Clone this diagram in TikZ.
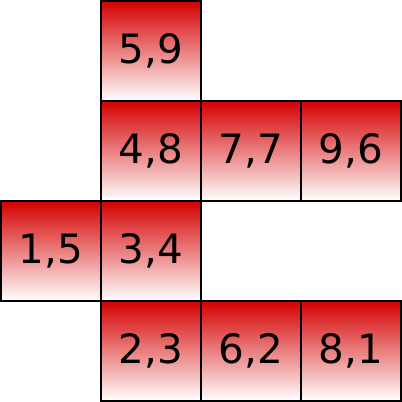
\documentclass[tikz,border=0pt]{standalone}
\usepackage{fontspec}
\setmainfont{DejaVu Sans}
\usetikzlibrary{positioning}
\definecolor{cellred}{RGB}{212,0,0}
\tikzset{
	cellbox/.style={draw=black,line width=0.4pt,minimum size=1cm,inner sep=0pt,
		top color=cellred,bottom color=white,font=\fontsize{11.5}{13}\selectfont}
}
\begin{document}
\begin{tikzpicture}
		\useasboundingbox (0,0) rectangle (4.02,4.02);
		% cells: column/row/label
		\foreach \c/\r/\lab in {1/0/{5,9},1/1/{4,8},2/1/{7,7},3/1/{9,6},0/2/{1,5},1/2/{3,4},1/3/{2,3},2/3/{6,2},3/3/{8,1}}
			\node[cellbox] (cell-\c-\r) at (0.51+\c,3.51-\r) {\lab};
	\end{tikzpicture}
\end{document}
